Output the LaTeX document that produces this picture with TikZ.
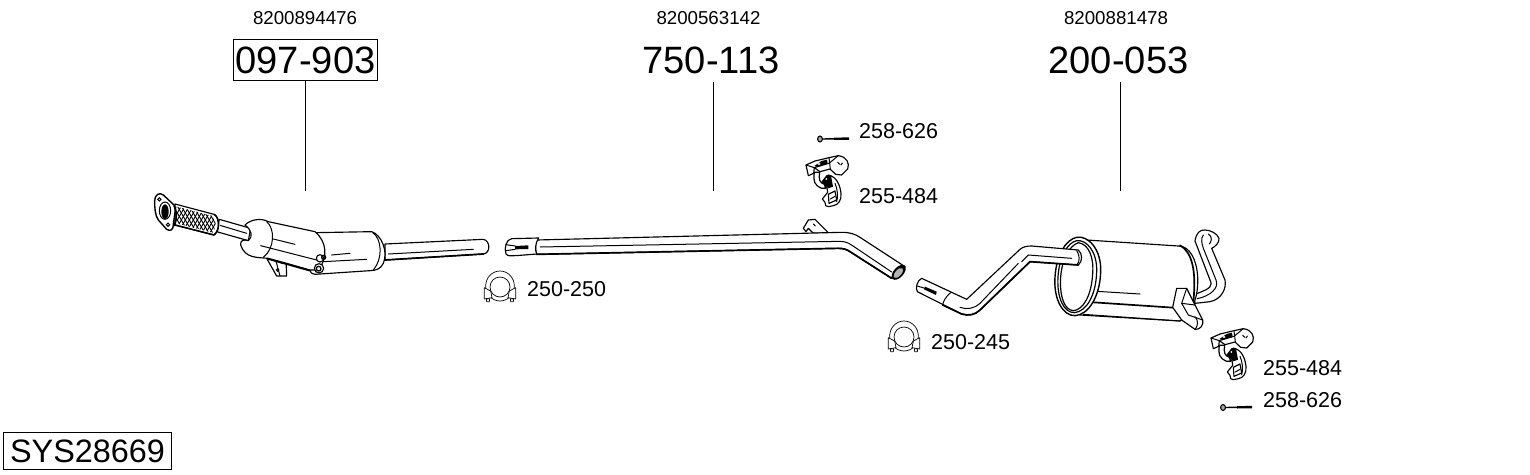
\documentclass[tikz,border=0pt]{standalone}
\usepackage{fontspec}
\setmainfont{Liberation Sans}
\newcommand{\fs}[1]{\fontsize{#1}{#1}\selectfont}
\tikzset{
  x=1pt,y=-1pt,
  part/.style={draw=black,fill=white,line width=1.15pt,line join=round},
  thinpart/.style={draw=black,fill=white,line width=0.7pt,line join=round},
  ln/.style={draw=black,line width=1pt,line cap=round},
  thk/.style={draw=black,line width=1.7pt,line cap=round},
  oem/.style={font=\fs{18.7},inner sep=0pt,anchor=center},
  big/.style={font=\fs{38.1},inner sep=0pt,anchor=center},
  small/.style={font=\fs{21.5},inner sep=0pt,anchor=west},
  leader/.style={draw=black,line width=1pt},
  clamp/.pic={
    \begin{scope}[scale=1/3]
    \path[thinpart] (0,3) ellipse[x radius=43,y radius=45];
    \path[thinpart] (-47,8) -- (-28,18) -- (-24,38) -- (-47,42) -- cycle;
    \path[thinpart] (47,8) -- (28,18) -- (24,38) -- (47,42) -- cycle;
    \path[thinpart] (-41,42) -- (-31,41) -- (-32,50) -- (-40,50) -- cycle;
    \path[thinpart] (41,42) -- (31,41) -- (32,50) -- (40,50) -- cycle;
    \path[thinpart] (0,6) circle[radius=30];
    \end{scope}
  },
  bolt/.pic={
    \draw[line width=1.4pt] (2,0) -- (14,-0.2);
    \draw[line width=2.4pt] (14,-0.2) -- (29,-0.4);
    \path[draw=black,fill=black!35,line width=1.1pt] (0,0) ellipse[x radius=2.4,y radius=3];
  },
  hanger/.pic={
    \begin{scope}[scale=1/3]
    % rubber block
    \path[part] (70,60) .. controls (95,65) and (105,90) .. (108,115) .. controls (110,135) and (100,150) .. (85,152) -- (70,155) -- (62,152) -- (60,142) -- (52,132) -- (68,112) -- (66,98) -- (58,90) -- cycle;
    \path[part] (70,118) -- (90,108) -- (95,135) -- (72,145) -- cycle;
    \draw[ln] (76,132) -- (90,124);
    \draw[ln] (90,85) .. controls (97,100) and (100,125) .. (95,140);
    % strap
    \path[draw=black,fill=white,line width=1.2pt] (28,52) .. controls (24,80) and (28,90) .. (50,100) -- (62,100) -- (58,88) .. controls (44,84) and (40,72) .. (44,52) -- cycle;
    % black centre
    \path[fill=black] (48,82) -- (65,60) -- (78,62) -- (84,95) -- (70,100) -- (60,90) -- cycle;
    \fill[white] (64,72) circle[radius=3];
    % top bracket
    \path[part] (3,30) -- (30,18) -- (72,8) -- (100,2) .. controls (125,5) and (135,25) .. (128,42) -- (110,60) -- (92,58) -- (75,42) -- (45,50) -- (28,38) -- (26,55) -- (10,62) -- cycle;
    \draw[ln] (3,30) -- (28,38);
    \draw[ln] (28,38) -- (72,25) -- (100,2);
    \draw[ln] (72,8) -- (76,42);
    \path[fill=black] (28,33) -- (50,18) -- (66,14) -- (68,26) -- (36,36) -- cycle;
    \fill[white] (42,27) ellipse[x radius=5,y radius=3];
    \draw[ln] (98,22) -- (104,28) (108,30) -- (112,24);
    \end{scope}
  }
}
\begin{document}
\begin{tikzpicture}
\useasboundingbox (0,0) rectangle (1530,474);
\fill[white] (0,0) rectangle (1530,474);

% --- labels
\node[oem] (a1) at (305,18) {8200894476};
\node[oem] (a2) at (708.5,18) {8200563142};
\node[oem] (a3) at (1116,18) {8200881478};
\node[big,draw,line width=1pt,inner xsep=2.5pt,inner ysep=3pt,minimum height=41pt] (b1) at (305.5,60) {097-903};
\node[big] (b2) at (711,60) {750-113};
\node[big] (b3) at (1118.5,60) {200-053};
\coordinate (e1) at (305.5,191);
\coordinate (e2) at (713,191);
\coordinate (e3) at (1120.5,191);
\coordinate (s2) at (713,82);
\coordinate (s3) at (1120.5,82);
\draw[leader] (b1.south) -- (e1);
\draw[leader] (s2) -- (e2);
\draw[leader] (s3) -- (e3);
\node[small] (c1) at (859,131.5) {258-626};
\node[small] (c2) at (859,196.5) {255-484};
\node[small] (c3) at (527,289) {250-250};
\node[small] (c4) at (931,342) {250-245};
\node[small] (c5) at (1263,368) {255-484};
\node[small] (c6) at (1263,400) {258-626};
\node[font=\fs{32.4},draw,line width=1pt,inner xsep=4.5pt,inner ysep=0pt,minimum height=37pt,minimum width=168pt] (sys) at (87.5,451) {SYS28669};

% --- catalyst assembly
\begin{scope}[shift={(140,180)},scale=1/3]
 % outlet pipe
 \path[part] (735,192) -- (1030,178) .. controls (1052,182) and (1052,220) .. (1030,222) -- (735,240) -- cycle;
 \draw[ln] (745,222) -- (1000,208);
 \draw[thk] (735,240) -- (1030,222);
 % rear can
 \path[part] (525,158) -- (695,155) .. controls (725,165) and (745,215) .. (730,250) .. controls (722,268) and (705,272) .. (690,272) -- (525,283) .. controls (505,280) and (505,262) .. (520,250) -- cycle;
 \draw[ln] (698,158) .. controls (725,175) and (730,235) .. (700,270);
 \draw[ln] (575,225) -- (630,220);
 \draw[ln] (550,245) -- (680,238);
 % inlet pipe
 \path[part] (238,118) -- (332,145) -- (325,182) -- (230,155) -- cycle;
 \draw[ln] (240,136) -- (320,160);
 % bracket
 \path[part] (380,235) -- (410,288) -- (440,288) -- (438,240) -- (425,250) -- (400,228) -- cycle;
 \draw[ln] (405,232) -- (420,288);
 \draw[ln] (413,270) circle[radius=4];
 % cat body
 \path[part] (315,135) .. controls (330,120) and (360,112) .. (385,125) -- (525,155) .. controls (560,185) and (565,230) .. (535,270) -- (510,270) -- (440,250) -- (385,235) .. controls (350,232) and (315,235) .. (302,195) .. controls (300,180) and (312,178) .. (325,182) .. controls (340,170) and (335,150) .. (315,135) -- cycle;
 \draw[ln] (380,125) .. controls (405,145) and (405,205) .. (370,232);
 \draw[ln] (400,177) -- (465,193);
 \draw[ln] (362,197) -- (530,240);
 \draw[thk] (385,237) -- (510,272);
 % clamp bolts
 \path[part] (540,235) circle[radius=11];
 \path[part] (537,265) circle[radius=14];
 \draw[line width=1.3pt] (551,232) circle[radius=6] (536,266) circle[radius=7];
 % hose
 \path[part] (105,72) -- (222,103) .. controls (238,110) and (242,150) .. (222,165) -- (105,135) -- cycle;
 \begin{scope}
  \clip (110,80) -- (218,108) .. controls (228,115) and (230,145) .. (218,158) -- (110,130) -- cycle;
  \foreach \k in {-60,-48,...,240}{
   \draw[line width=0.9pt] (60+\k,50) -- (60+\k+80,190);
   \draw[line width=0.9pt] (60+\k,190) -- (60+\k+80,50);
  }
 \end{scope}
 \draw[line width=1.5pt] (222,103) .. controls (238,110) and (242,150) .. (222,165);
 \draw[line width=1.5pt] (105,135) -- (222,165);
 % flange
 \path[part,line width=1.4pt] (44,62) .. controls (44,45) and (58,35) .. (70,45) -- (102,75) .. controls (110,90) and (100,120) .. (100,135) .. controls (100,150) and (90,155) .. (80,148) -- (55,120) .. controls (45,105) and (44,85) .. (44,62) -- cycle;
 \draw[ln] (75,92) ellipse[x radius=17,y radius=26];
 \fill[black] (75,95) ellipse[x radius=11,y radius=22];
 \draw[ln] (58,58) circle[radius=5] (84,134) circle[radius=5];
 \draw[line width=1.6pt] (102,78) .. controls (112,90) and (110,125) .. (102,138);
\end{scope}

% --- middle pipe
\begin{scope}[shift={(480,120)},scale=1/3]
 % hanger tab
 \path[part] (970,325) -- (985,300) -- (1005,298) -- (1045,338) -- (1000,340) -- (985,325) -- (978,335) -- cycle;
 \draw[ln] (1000,312) -- (1006,318);
 % main tube
 \path[part] (170,360) -- (1085,337) .. controls (1110,337) and (1125,342) .. (1140,352) -- (1275,440) -- (1235,475) -- (1110,395) .. controls (1100,388) and (1090,385) .. (1075,385) -- (170,403) .. controls (165,390) and (165,372) .. (170,360) -- cycle;
 \draw[ln] (180,381) -- (1080,364) .. controls (1100,364) and (1110,372) .. (1125,382) -- (1235,456);
 \draw[thk] (170,403) -- (1075,385) .. controls (1090,385) and (1100,388) .. (1110,395) -- (1235,475);
 \path[fill=black] (1256,457) ellipse[x radius=27,y radius=15,rotate=48];
 \path[fill=black!30] (1255,459) ellipse[x radius=19,y radius=9,rotate=48];
 % flared end
 \path[part] (176,354) -- (95,356) .. controls (78,358) and (72,385) .. (78,402) .. controls (82,410) and (95,408) .. (170,402) .. controls (165,390) and (165,370) .. (176,354) -- cycle;
 \draw[ln] (78,374) -- (105,378);
 \draw[ln] (78,392) -- (105,388);
 \fill[black] (105,378) -- (145,376) -- (145,387) -- (105,388) -- cycle;
\end{scope}

% --- rear section
\begin{scope}[shift={(880,220)},scale=1/3]
 % tail pipe
 \path[part] (945,63) .. controls (948,40) and (960,28) .. (975,30) .. controls (990,30) and (1012,40) .. (1017,55) .. controls (1018,70) and (1005,80) .. (995,85) -- (1035,180) .. controls (1040,205) and (1025,238) .. (990,245) -- (945,250) -- (940,225) -- (965,215) .. controls (985,207) and (1000,200) .. (990,180) -- cycle;
 \draw[ln] (970,45) .. controls (962,55) and (965,70) .. (970,85) -- (1008,180) .. controls (1018,205) and (990,228) .. (952,236);
 \draw[ln] (985,42) .. controls (998,50) and (995,65) .. (988,72);
 % muffler body
 \path[part] (620,60) -- (895,78) .. controls (930,78) and (950,120) .. (953,170) .. controls (955,220) and (945,270) .. (900,303) -- (600,285) -- cycle;
 \draw[thk] (900,76) .. controls (935,95) and (950,150) .. (940,245);
 \draw[ln] (650,214) -- (780,222);
 \draw[thk] (640,247) -- (880,263);
 \draw[ln] (610,283) -- (900,303);
 % end plate
 \path[part,line width=1.4pt] (590,52) .. controls (625,45) and (665,90) .. (662,155) .. controls (660,230) and (625,285) .. (585,287) .. controls (550,288) and (520,240) .. (525,170) .. controls (530,100) and (560,58) .. (590,52) -- cycle;
 \path[part,line width=1.2pt] (590,62) .. controls (620,58) and (652,95) .. (650,155) .. controls (648,225) and (620,275) .. (583,278) .. controls (552,278) and (530,235) .. (534,170) .. controls (538,110) and (562,68) .. (590,62) -- cycle;
 \draw[line width=1.2pt] (595,68) .. controls (625,72) and (642,110) .. (638,160) .. controls (635,225) and (610,270) .. (580,272) .. controls (555,270) and (538,235) .. (542,170) .. controls (545,125) and (565,78) .. (595,68) -- cycle;
 % bracket with pipe stub on muffler
 \path[part] (890,205) -- (920,205) -- (945,255) -- (968,300) .. controls (972,315) and (960,330) .. (945,328) -- (905,300) -- (878,262) -- cycle;
 \draw[ln] (920,205) -- (905,250) -- (945,255);
 \draw[ln] (905,250) -- (925,285) -- (968,300);
 \draw[ln] (945,290) .. controls (955,300) and (955,318) .. (945,328);
 % inlet pipe
 \path[part] (125,175) -- (260,238) -- (420,88) .. controls (430,80) and (440,78) .. (455,78) -- (595,90) .. controls (608,100) and (608,125) .. (595,135) -- (450,125) -- (300,270) .. controls (285,285) and (265,288) .. (245,282) -- (112,215) .. controls (105,205) and (112,180) .. (125,175) -- cycle;
 \draw[ln] (212,218) .. controls (195,232) and (190,245) .. (188,255);
 \draw[ln] (240,262) .. controls (260,270) and (285,265) .. (300,250) -- (415,130);
 \draw[ln] (445,105) -- (575,115);
 \draw[ln] (445,105) -- (425,125);
 \draw[ln] (590,92) .. controls (600,105) and (600,125) .. (590,135);
 \draw[thk] (188,255) -- (245,282) .. controls (265,288) and (285,285) .. (300,270) -- (450,125) -- (595,135);
 \draw[ln] (112,198) -- (135,205);
 \fill[black] (135,200) -- (170,215) -- (168,225) -- (132,208) -- cycle;
\end{scope}

% --- small parts
\pic at (500,285) {clamp};
\pic at (904,335) {clamp};
\pic at (820,139) {bolt};
\pic at (1223,407.5) {bolt};
\pic at (805,155) {hanger};
\pic at (1210,328) {hanger};
\end{tikzpicture}
\end{document}
